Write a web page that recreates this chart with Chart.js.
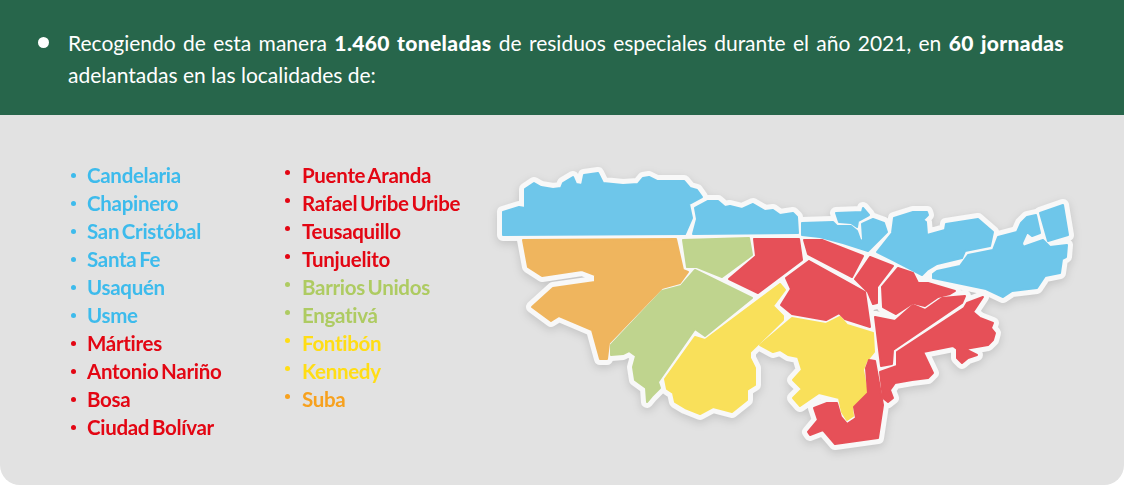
<!DOCTYPE html>
<html lang="es"><head><meta charset="utf-8">
<script src="https://cdn.jsdelivr.net/npm/chart.js@4"></script>
<style>
html,body{margin:0;padding:0;background:#fff;width:1124px;height:485px;overflow:hidden}
#panel{position:absolute;left:0;top:115px;width:1124px;height:370px;background:#e2e2e2;border-radius:0 0 20px 20px}
#head{position:absolute;left:0;top:0;width:1124px;height:115px;background:#27664b}
#dot{position:absolute;left:38px;top:37px;width:11px;height:11px;border-radius:50%;background:#fff}
#txt{position:absolute;left:68px;top:27px;width:996px;color:#fff;font:400 21px/32px Lato,sans-serif;text-align:justify}
#txt b{font-weight:900;letter-spacing:.35px}
canvas{position:absolute;left:0;top:0;filter:drop-shadow(0 3px 4px rgba(0,0,0,.13))}
.it{position:absolute;font:700 20.5px/28px Lato,sans-serif;letter-spacing:-.3px;word-spacing:-2px;white-space:nowrap}
.bu{position:absolute;width:5px;height:5px;border-radius:50%}
</style></head><body>
<div id="panel"></div><div id="head"></div><div id="dot"></div>
<div id="txt">Recogiendo de esta manera <b>1.460 toneladas</b> de residuos especiales durante el año 2021, en <b>60 jornadas</b> adelantadas en las localidades de:</div>
<canvas id="c" width="1124" height="485"></canvas>
<script>
const column1Names=["Candelaria","Chapinero","San Cristóbal","Santa Fe","Usaquén","Usme","Mártires","Antonio Nariño","Bosa","Ciudad Bolívar"];
const column1Colors=["#3dbbec","#3dbbec","#3dbbec","#3dbbec","#3dbbec","#3dbbec","#e30613","#e30613","#e30613","#e30613"];
const column2Names=["Puente Aranda","Rafael Uribe Uribe","Teusaquillo","Tunjuelito","Barrios Unidos","Engativá","Fontibón","Kennedy","Suba"];
const column2Colors=["#e30613","#e30613","#e30613","#e30613","#aecb62","#aecb62","#ffdd15","#ffdd15","#f7a11e"];

const blueA=[[503,235],[503,212],[519,207],[525,208],[525,189],[534,183],[541,187],[553,189],[561,188],[563,183],[573,177],[576,184],[582,185],[584,175],[598,173],[603,183],[623,185],[638,184],[643,178],[649,177],[657,181],[684,181],[690,188],[697,190],[702,197],[689,204],[692,218],[685,234]];
const blueB=[[693,234],[697,219],[695,208],[708,201],[718,201],[725,207],[730,206],[742,209],[753,204],[765,211],[773,210],[780,215],[793,213],[797,217],[798,233]];
const blueC=[[836,213],[862,212],[863,208],[869,215],[858,221],[857,227],[851,223],[839,222]];
const blueD=[[802,223],[833,222],[837,226],[851,226],[857,231],[861,242],[863,239],[862,224],[873,219],[884,223],[887,232],[868,251],[843,243],[820,237],[802,235]];
const blueE=[[877,252],[892,233],[894,218],[913,212],[927,212],[928,215],[923,220],[926,222],[927,235],[945,230],[946,224],[978,219],[993,232],[990,246],[965,251],[962,258],[937,264],[927,270],[922,275],[893,260]];
const blueF=[[933,274],[937,271],[960,266],[968,255],[993,250],[998,237],[1017,232],[1021,223],[1027,217],[1036,215],[1040,233],[1032,236],[1027,232],[1022,243],[1023,247],[1043,240],[1050,247],[1067,245],[1066,257],[1062,259],[1060,273],[1045,276],[1037,288],[1012,291],[1003,297],[986,289],[933,278]];
const blueG=[[1040,213],[1063,205],[1068,235],[1048,241]];
const orangeA=[[523,240],[676,239],[683,270],[688,272],[680,283],[662,288],[609,343],[607,359],[600,359],[592,330],[559,316],[551,321],[532,307],[553,288],[595,282],[595,275],[582,270],[542,276],[528,267]];
const greenA=[[683,240],[749,238],[752,255],[722,277],[697,267],[687,267]];
const greenB=[[695,270],[752,298],[705,336],[695,329],[658,382],[660,388],[652,396],[647,402],[646,388],[635,380],[633,367],[636,356],[629,351],[623,354],[611,355],[611,345],[662,291],[681,286]];
const redA=[[754,239],[799,239],[802,260],[758,293],[729,279],[756,256]];
const redB=[[804,240],[822,240],[863,256],[852,277],[808,254]];
const redC=[[809,261],[865,292],[870,327],[845,319],[839,313],[826,320],[792,314],[781,305],[791,289],[786,278]];
const redD=[[870,257],[893,266],[877,287],[877,303],[873,304],[868,292],[855,279]];
const redE=[[898,268],[913,273],[918,283],[928,283],[955,291],[950,294],[938,297],[925,306],[913,303],[896,314],[883,307],[882,287]];
const redF=[[875,317],[895,321],[913,305],[925,310],[942,298],[965,296],[962,303],[893,350],[892,364],[881,366]];
const redG=[[897,352],[964,308],[967,303],[983,297],[973,312],[980,318],[993,323],[991,328],[995,333],[993,340],[988,345],[965,349],[977,355],[968,358],[962,363],[957,358],[957,349],[953,346],[923,352],[933,373],[928,378],[912,380],[895,383],[890,390],[893,398],[888,402],[883,398],[880,372],[897,366]];
const redH=[[869,360],[866,368],[868,393],[854,407],[856,418],[847,424],[841,417],[837,403],[827,403],[814,408],[818,420],[808,432],[810,435],[823,430],[835,444],[878,438],[883,405],[875,361]];
const yellowA=[[780,284],[785,290],[773,306],[783,316],[783,320],[750,352],[750,358],[755,368],[755,385],[747,390],[747,400],[732,412],[713,407],[700,414],[685,408],[675,402],[673,393],[667,389],[665,379],[695,337],[705,340]];
const yellowB=[[792,318],[826,324],[840,317],[847,325],[873,333],[874,352],[866,362],[863,370],[867,392],[852,407],[853,416],[847,420],[842,412],[839,398],[819,393],[800,406],[793,398],[802,389],[793,380],[802,370],[798,357],[788,355],[780,350],[773,352],[760,345]];

const regions=[
 ["Azul",blueA,"#6ec6ea"],["Azul",blueB,"#6ec6ea"],["Azul",blueC,"#6ec6ea"],["Azul",blueD,"#6ec6ea"],["Azul",blueE,"#6ec6ea"],["Azul",blueF,"#6ec6ea"],["Azul",blueG,"#6ec6ea"],
 ["Naranja",orangeA,"#efb55e"],["Verde",greenA,"#bfd48e"],["Verde",greenB,"#bfd48e"],
 ["Rojo",redA,"#e65058"],["Rojo",redB,"#e65058"],["Rojo",redC,"#e65058"],["Rojo",redD,"#e65058"],["Rojo",redE,"#e65058"],["Rojo",redF,"#e65058"],["Rojo",redG,"#e65058"],["Rojo",redH,"#e65058"],
 ["Amarillo",yellowA,"#f9e05a"],["Amarillo",yellowB,"#f9e05a"]
];

function addList(names,colors,x,bx,by){
  names.forEach((n,i)=>{
    const d=document.createElement('div');d.className='it';d.textContent=n;
    d.style.cssText=`left:${x}px;top:${161+i*28}px;color:${colors[i]}`;
    document.body.appendChild(d);
    const b=document.createElement('div');b.className='bu';
    b.style.cssText=`left:${bx}px;top:${by+i*28}px;background:${colors[i]}`;
    document.body.appendChild(b);
  });
}
addList(column1Names,column1Colors,87,71,173);
addList(column2Names,column2Colors,302,285,170);

const closed=p=>p.concat([p[0]]);
const base={showLine:true,pointRadius:0,pointHoverRadius:0,tension:0,borderJoinStyle:'round',borderCapStyle:'round',fill:'shape',clip:false};
const halo=regions.map(r=>({...base,label:r[0]+" borde",data:closed(r[1]),borderColor:'#f8f8f8',backgroundColor:'#f8f8f8',borderWidth:12,order:2}));
const shapes=regions.map(r=>({...base,label:r[0],data:closed(r[1]),borderColor:r[2],backgroundColor:r[2],borderWidth:2,order:1}));
new Chart(document.getElementById('c'),{
  type:'scatter',
  data:{datasets:[...shapes,...halo]},
  options:{responsive:false,animation:false,events:[],
    layout:{padding:0},
    plugins:{legend:{display:false},tooltip:{enabled:false},title:{display:false}},
    scales:{x:{type:'linear',min:0,max:1124,display:false},y:{type:'linear',min:0,max:485,reverse:true,display:false}}}
});
</script></body></html>
